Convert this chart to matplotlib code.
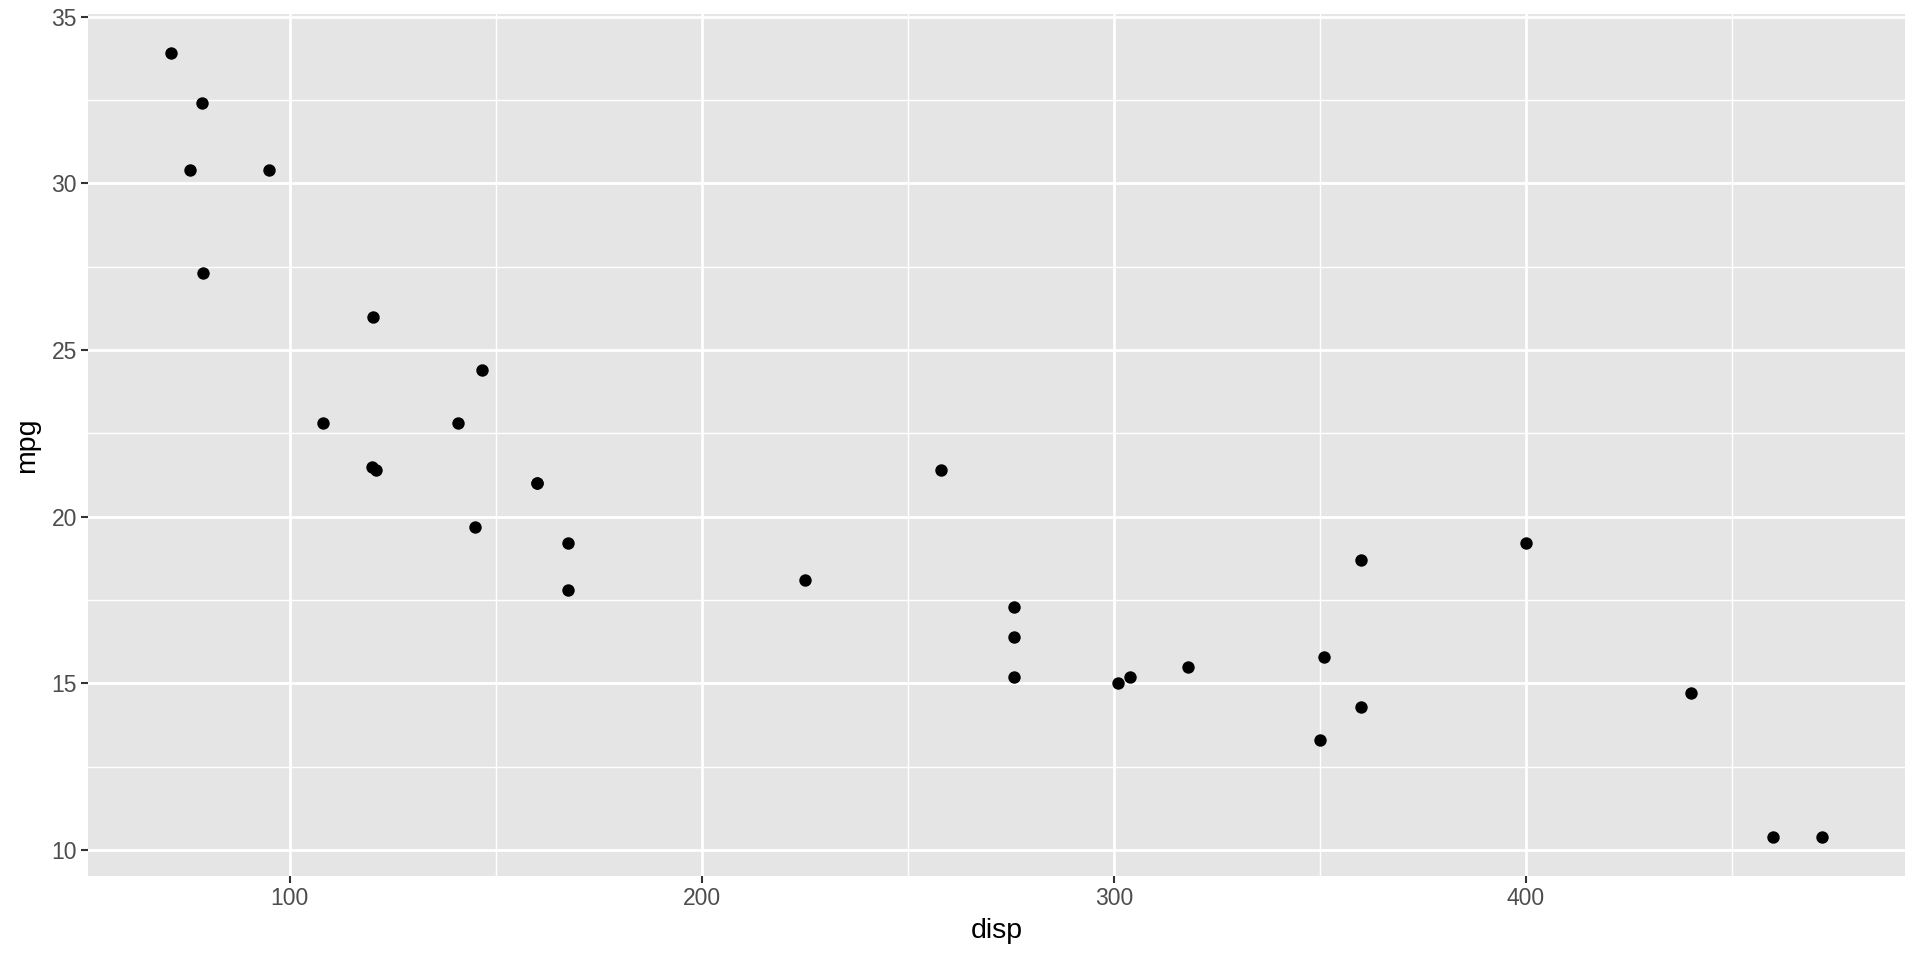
import matplotlib
matplotlib.use("Agg")
import matplotlib.pyplot as plt
from matplotlib.ticker import MultipleLocator

# mtcars: displacement vs miles per gallon
disp = [160, 160, 108, 258, 360, 225, 360, 146.7, 140.8, 167.6, 167.6,
        275.8, 275.8, 275.8, 472, 460, 440, 78.7, 75.7, 71.1, 120.1,
        318, 304, 350, 400, 79, 120.3, 95.1, 351, 145, 301, 121]
mpg = [21.0, 21.0, 22.8, 21.4, 18.7, 18.1, 14.3, 24.4, 22.8, 19.2, 17.8,
       16.4, 17.3, 15.2, 10.4, 10.4, 14.7, 32.4, 30.4, 33.9, 21.5,
       15.5, 15.2, 13.3, 19.2, 27.3, 26.0, 30.4, 15.8, 19.7, 15.0, 21.4]

plt.rcParams['font.family'] = ['Liberation Sans', 'DejaVu Sans']

fig = plt.figure(figsize=(19.2, 9.6), dpi=100)
ax = fig.add_axes([88/1920, 1 - 876/960, (1905 - 88)/1920, (876 - 14)/960])
ax.set_facecolor('#E5E5E5')

ax.scatter(disp, mpg, s=80, color='black', linewidths=0, zorder=3)

def padded(vals):
    lo, hi = min(vals), max(vals)
    d = (hi - lo) * 0.05
    return lo - d, hi + d

ax.set_xlim(*padded(disp))
ax.set_ylim(*padded(mpg))

ax.xaxis.set_major_locator(MultipleLocator(100))
ax.xaxis.set_minor_locator(MultipleLocator(50))
ax.yaxis.set_major_locator(MultipleLocator(5))
ax.yaxis.set_minor_locator(MultipleLocator(2.5))

ax.grid(which='major', color='white', linewidth=2.0)
ax.grid(which='minor', color='white', linewidth=1.0)
ax.set_axisbelow(True)

for sp in ax.spines.values():
    sp.set_visible(False)

ax.tick_params(which='major', length=5, width=1.5, color='#333333',
               labelsize=16.5, labelcolor='#4D4D4D', pad=3)
ax.tick_params(which='minor', length=0)

ax.set_xlabel('disp', fontsize=20.5, color='black', labelpad=6)
ax.set_ylabel('mpg', fontsize=20.5, color='black', labelpad=8)

fig.savefig('out.png', dpi=100, facecolor='white')
